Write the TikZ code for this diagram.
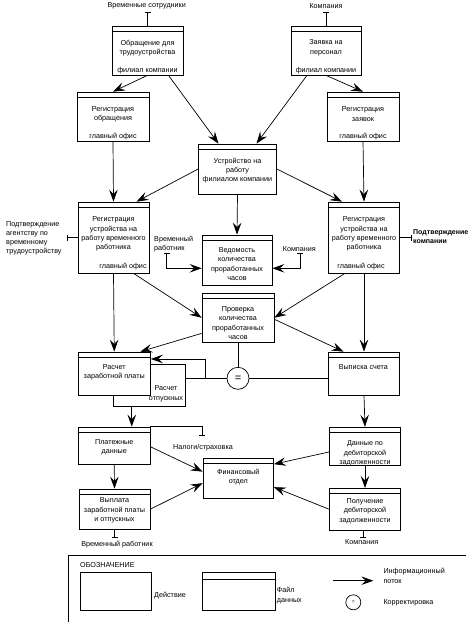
\documentclass[tikz,border=0pt]{standalone}
\usepackage{fontspec}
\setmainfont{Liberation Sans}
\usetikzlibrary{arrows.meta,calc}
\begin{document}
\begin{tikzpicture}[x=1pt,y=-1pt,
  every node/.style={font=\fontsize{7.2}{9.3}\selectfont, inner sep=0pt, align=center},
  ln/.style={line width=0.7pt},
  act/.style={draw, ln, fill=white, inner sep=0pt},
  box/.style={act, path picture={\draw[line width=0.7pt]
      ([yshift=-5pt]path picture bounding box.north west) --
      ([yshift=-5pt]path picture bounding box.north east);}},
  arr/.style={ln, -{Stealth[length=12pt,width=8.5pt,inset=4.5pt]}},
  tee/.style={ln, -{Bar[width=6pt]}},
  teein/.style={ln, {Bar[width=6pt]}-{Stealth[length=12pt,width=8.5pt,inset=4.5pt]}}
]
\useasboundingbox (0,0) rectangle (476,622);

% ---------- boxes ----------
\node[box, minimum width=71pt, minimum height=49pt] (A) at (147.5,50.5) {};
\node[box, minimum width=70pt, minimum height=49pt] (B) at (326,50.5) {};
\node[box, minimum width=72pt, minimum height=49pt] (C) at (113,116.5) {};
\node[box, minimum width=72pt, minimum height=49pt] (D) at (363,116.5) {};
\node[box, minimum width=78pt, minimum height=50pt] (E) at (237.5,169) {};
\node[box, minimum width=71pt, minimum height=71pt] (F) at (113.5,237.5) {};
\node[box, minimum width=71pt, minimum height=71pt] (G) at (364,237.5) {};
\node[box, minimum width=70pt, minimum height=50pt] (H) at (237,260) {};
\node[box, minimum width=72pt, minimum height=49.5pt] (I) at (238,317.75) {};
\node[act, minimum width=71.5pt, minimum height=42pt] (J2) at (149.25,385) {};
\node[box, minimum width=72.5pt, minimum height=43pt] (J) at (114.25,373.5) {};
\node[box, minimum width=71pt, minimum height=43pt] (K) at (364,373.5) {};
\node[box, minimum width=71.5pt, minimum height=37pt] (L) at (114.25,445.5) {};
\node[box, minimum width=70.5pt, minimum height=40.3pt] (M) at (238.25,478.15) {};
\node[box, minimum width=71.4pt, minimum height=37.7pt] (N) at (365,446) {};
\node[box, minimum width=71pt, minimum height=40.3pt] (O) at (114.5,509.15) {};
\node[box, minimum width=71.4pt, minimum height=41.7pt] (P) at (365,509.15) {};

% ---------- texts in boxes ----------
\node (tA) at (147.5,47.8) {Обращение для\\трудоустройства};
\node (lA) at (147.5,70.7) {филиал компании};
\node (tB) at (326,47.8) {Заявка на\\персонал};
\node (lB) at (326,70.7) {филиал компании};
\node (tC) at (113,114.2) {Регистрация\\обращения};
\node (lC) at (113,136.7) {главный офис};
\node (tD) at (363,114.2) {Регистрация\\заявок};
\node (lD) at (363,136.7) {главный офис};
\node (tE) at (237.5,170.5) {Устройство на\\работу\\филиалом компании};
\node (tF) at (113.5,234) {Регистрация\\устройства на\\работу временного\\работника};
\node (lF) at (123,266.7) {главный офис};
\node (tG) at (364,234) {Регистрация\\устройства на\\работу временного\\работника};
\node (lG) at (361,266.7) {главный офис};
\node (tH) at (237,264) {Ведомость\\количества\\проработанных\\часов};
\node (tI) at (238,323) {Проверка\\количества\\проработанных\\часов};
\node (tJ) at (114.25,372.2) {Расчет\\заработной платы};
\node (tJ2) at (166,393.8) {Расчет\\отпускных};
\node (tK) at (363.3,367.3) {Выписка счета};
\node (tL) at (114.25,447.5) {Платежные\\данные};
\node (tM) at (238.3,477) {Финансовый\\отдел};
\node (tN) at (365,453.3) {Данные по\\дебиторской\\задолженности};
\node (tO) at (114.5,510.3) {Выплата\\заработной платы\\и отпускных};
\node (tP) at (365,511) {Получение\\дебиторской\\задолженности};

% ---------- correction circle ----------
\node[draw, ln, circle, minimum size=22pt, fill=white, font=\fontsize{11}{11}\selectfont] (Q) at (238,378.3) {=};

% ---------- external labels ----------
\node (eA) at (146.7,6) {Временные сотрудники};
\node (eB) at (326,6) {Компания};
\node[anchor=west, align=left] (eF) at (6,238.3) {Подтверждение\\агентству по\\временному\\трудоустройству};
\node[anchor=west, align=left, font=\fontsize{7}{9.3}\selectfont\bfseries] (eG) at (413,236.3) {Подтверждение\\компании};
\node[anchor=west, align=left] (eH1) at (154,244.3) {Временный\\работник};
\node (eH2) at (299.3,249.3) {Компания};
\node (eL) at (203,447.5) {Налоги/страховка};
\node (eO) at (117,545) {Временный работник};
\node (eP) at (361.7,541.7) {Компания};

% ---------- connectors ----------
\draw[tee] (A.north) -- ++(0,-13.5);
\draw[tee] (B.north) -- ++(0,-13.5);
\draw[arr] (A.south) -- (C.north);
\draw[arr] ([xshift=21pt]A.south) -- ([xshift=-19pt]E.north);
\draw[arr] ([xshift=-19pt]B.south) -- ([xshift=19pt]E.north);
\draw[arr] (B.south) -- (D.north);
\draw[arr] (C.south) -- (F.north);
\draw[arr] (D.south) -- (G.north);
\draw[arr] (E.west) -- ([xshift=23pt]F.north);
\draw[arr] (E.east) -- ([xshift=-22pt]G.north);
\draw[arr] (E.south) -- (H.north);
\draw[tee] (F.west) -- ++(-11,0);
\draw[tee] (G.east) -- ++(12,0);
\coordinate (sH1) at (166.7,253);
\coordinate (sH2) at (300,253);
\draw[teein] (sH1) |- ([yshift=-8.3pt]H.west);
\draw[teein] (sH2) |- ([yshift=-8.3pt]H.east);
\draw[arr] ([xshift=20pt]F.south) -- (I.west);
\draw[arr] ([xshift=-19pt]G.south) -- (I.east);
\draw[arr] (F.south) -- (J.north);
\draw[arr] (G.south) -- (K.north);
\draw[arr] ([yshift=9.5pt]I.south west) -- ([xshift=26pt]J.north);
\draw[arr] ([yshift=-1.5pt]I.east) -- ([xshift=-20.5pt]K.north);
\draw[ln] (I.south) -- (Q.north);
\draw[ln] (Q.east) -- (Q.east -| K.west);
\draw[ln] (Q.west) -- (Q.west -| J2.east);
\coordinate (br) at (205,378.3);
\draw[arr] (br) |- ([yshift=-7.3pt]J.north east);
\draw[arr] ([xshift=-17.5pt]J2.south) -- ([xshift=17.5pt]L.north);
\draw[arr] (K.south) -- (N.north);
\draw[tee] (L.north east) -- ++(51.7,0) -- ++(0,9);
\draw[arr] (L.south) -- (O.north);
\draw[arr] (N.south) -- (P.north);
\draw[arr] ([yshift=-1.2pt]L.east) -- ([yshift=6.5pt]M.west);
\draw[arr] (O.east) -- ([yshift=-5pt]M.west);
\draw[arr] ([yshift=-6pt]N.west) -- ([yshift=14pt]M.east);
\draw[arr] (P.west) -- ([yshift=-9pt]M.east);
\draw[tee] (O.south) -- ++(0,8);
\draw[tee] ([xshift=-1.7pt]P.south) -- ++(0,7);

% ---------- legend ----------
\draw[ln] (68.3,622) -- (68.3,555) -- (466,555);
\node[anchor=west] (lg) at (80,565) {ОБОЗНАЧЕНИЕ};
\node[act, minimum width=71.7pt, minimum height=38pt] (la) at (115.85,591) {};
\node[anchor=west] (lat) at (154,596) {Действие};
\node[act, minimum width=72.7pt, minimum height=38pt, path picture={\draw[line width=0.7pt]
      ([yshift=-7.3pt]path picture bounding box.north west) --
      ([yshift=-7.3pt]path picture bounding box.north east);}] (lf) at (238.65,591) {};
\node[anchor=west, align=left] (lft) at (276.7,595.5) {Файл\\данных};
\coordinate (la1) at (332.7,580.7);
\coordinate (la2) at (373.3,580.7);
\draw[arr] (la1) -- (la2);
\node[anchor=west, align=left] (lit) at (383.3,576) {Информационный\\поток};
\node[draw, ln, circle, minimum size=15pt, font=\fontsize{5}{5}\selectfont] (lq) at (353.3,602.3) {=};
\node[anchor=west] (lqt) at (383.3,603) {Корректировка};
\end{tikzpicture}
\end{document}
